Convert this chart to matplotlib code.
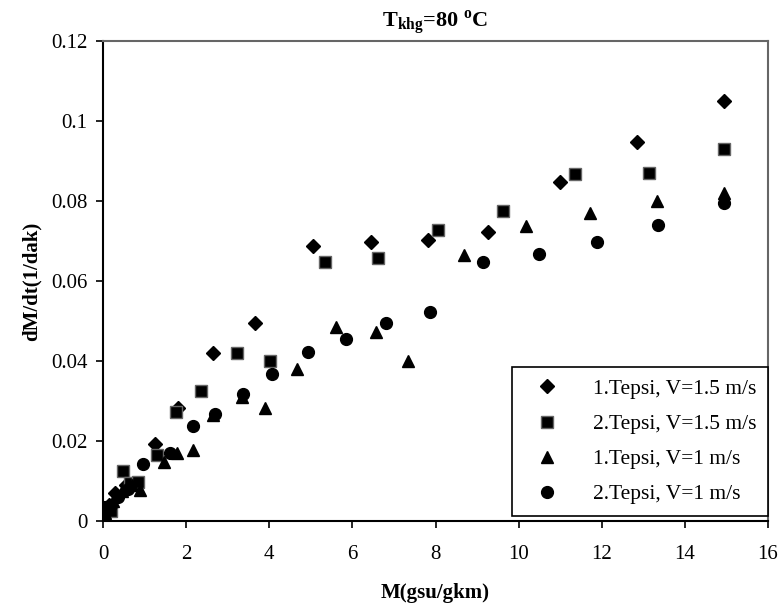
import matplotlib
matplotlib.use("Agg")
import matplotlib.pyplot as plt

plt.rcParams["font.family"] = ["Liberation Serif", "DejaVu Serif"]
plt.rcParams["mathtext.fontset"] = "custom"
plt.rcParams["mathtext.rm"] = "Liberation Serif"
plt.rcParams["mathtext.bf"] = "Liberation Serif:bold"

# 1.Tepsi, V=1.5 m/s
t1_v15_x = [0.05, 0.15, 0.3, 0.55, 0.8, 1.25, 1.8, 2.65, 3.66, 5.05, 6.45, 7.82, 9.26, 11.0, 12.85, 14.94]
t1_v15_y = [0.003, 0.004, 0.007, 0.009, 0.0095, 0.0193, 0.0282, 0.042, 0.0495, 0.0687, 0.0698, 0.0702, 0.0722, 0.0847, 0.0948, 0.105]

# 2.Tepsi, V=1.5 m/s
t2_v15_x = [0.05, 0.2, 0.48, 0.65, 0.85, 1.3, 1.75, 2.36, 3.22, 4.02, 5.34, 6.62, 8.06, 9.62, 11.36, 13.14, 14.94]
t2_v15_y = [0.003, 0.0025, 0.0125, 0.0095, 0.0098, 0.0165, 0.0272, 0.0325, 0.042, 0.040, 0.0648, 0.0658, 0.0728, 0.0775, 0.0868, 0.087, 0.093]

# 1.Tepsi, V=1 m/s
t1_v1_x = [0.05, 0.25, 0.45, 0.7, 0.89, 1.47, 1.78, 2.17, 2.64, 3.34, 3.90, 4.67, 5.61, 6.57, 7.34, 8.69, 10.18, 11.72, 13.33, 14.94]
t1_v1_y = [0.002, 0.005, 0.0075, 0.009, 0.0078, 0.0148, 0.017, 0.0178, 0.0265, 0.031, 0.0283, 0.038, 0.0485, 0.0473, 0.040, 0.0665, 0.0737, 0.077, 0.080, 0.082]

# 2.Tepsi, V=1 m/s
t2_v1_x = [0.05, 0.2, 0.35, 0.6, 0.97, 1.6, 2.16, 2.69, 3.37, 4.07, 4.94, 5.85, 6.81, 7.87, 9.15, 10.5, 11.88, 13.35, 14.94]
t2_v1_y = [0.0035, 0.004, 0.006, 0.008, 0.0143, 0.017, 0.0238, 0.0268, 0.0318, 0.0368, 0.0423, 0.0455, 0.0495, 0.0523, 0.0648, 0.0668, 0.0698, 0.074, 0.0795]

fig = plt.figure(figsize=(7.81, 6.15), dpi=100)
ax = fig.add_axes([0.1319, 0.1528, 0.8515, 0.7805])

ax.plot(t1_v15_x, t1_v15_y, ls="none", marker="D", ms=7, color="black",
        label="1.Tepsi, V=1.5 m/s")
ax.plot(t2_v15_x, t2_v15_y, ls="none", marker="s", ms=8, color="black",
        markeredgecolor="#666666", markeredgewidth=1, label="2.Tepsi, V=1.5 m/s")
ax.plot(t1_v1_x, t1_v1_y, ls="none", marker="^", ms=9, color="black",
        label="1.Tepsi, V=1 m/s")
ax.plot(t2_v1_x, t2_v1_y, ls="none", marker="o", ms=8.5, color="black",
        label="2.Tepsi, V=1 m/s")

ax.set_xlim(0, 16)
ax.set_ylim(0, 0.12)
ax.set_xticks(range(0, 17, 2))
ax.set_yticks([0, 0.02, 0.04, 0.06, 0.08, 0.1, 0.12])
ax.set_yticklabels(["0", "0.02", "0.04", "0.06", "0.08", "0.1", "0.12"])
ax.tick_params(direction="out", length=5, width=1.2, labelsize=15, pad=6)
ax.tick_params(axis="x", pad=12)

for side in ["left", "bottom"]:
    ax.spines[side].set_color("black")
    ax.spines[side].set_linewidth(1.5)
for side in ["top", "right"]:
    ax.spines[side].set_color("#666666")
    ax.spines[side].set_linewidth(1.5)

ax.set_xlabel("M(gsu/gkm)", fontsize=15, fontweight="bold", labelpad=14)
ax.set_ylabel("dM/dt(1/dak)", fontsize=15, fontweight="bold", labelpad=7)
ax.set_title(r"$\mathbf{T_{khg}}$=80 $^{\mathbf{o}}$C", fontsize=16,
             fontweight="bold", pad=10)

leg = ax.legend(loc="lower right", bbox_to_anchor=(1.0, 0.01), fontsize=15.5,
                frameon=True, fancybox=False, edgecolor="black", framealpha=1,
                borderaxespad=0, handletextpad=1.0, labelspacing=0.7,
                borderpad=0.55, handlelength=2.2)
leg.get_frame().set_linewidth(1.2)

fig.savefig("out.png", dpi=100)
